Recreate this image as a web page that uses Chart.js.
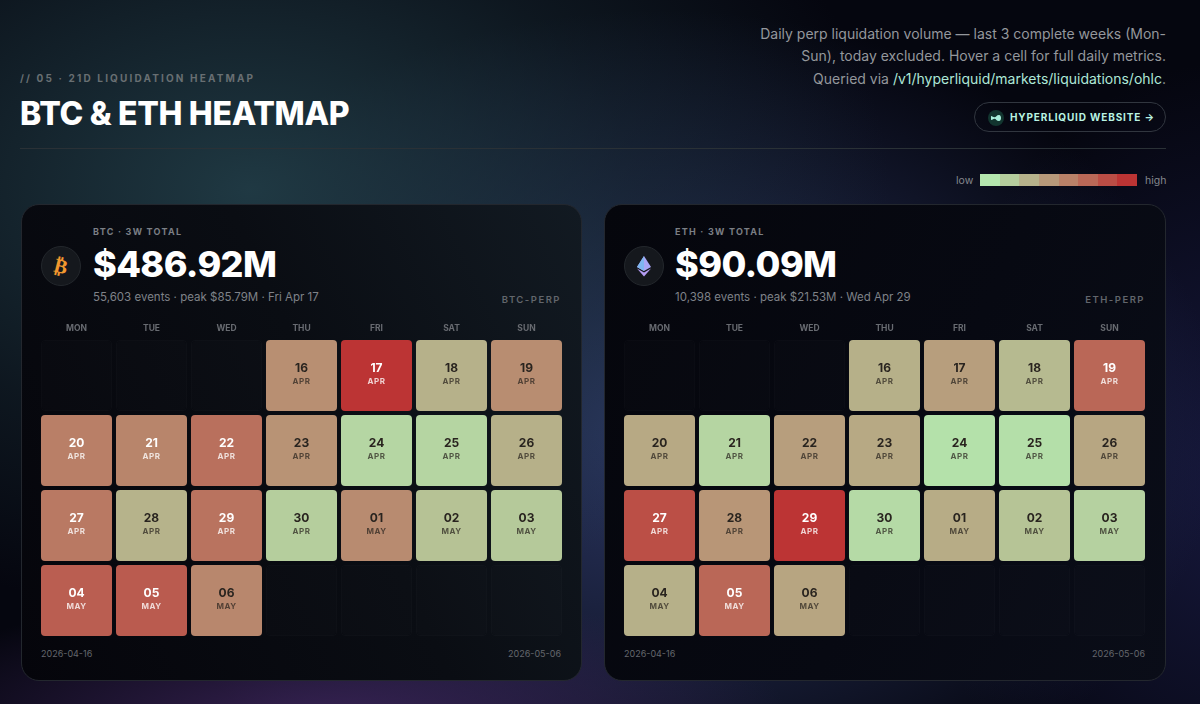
<!DOCTYPE html>
<html>
<head>
<meta charset="utf-8">
<title>BTC & ETH Heatmap</title>
<script src="https://cdn.jsdelivr.net/npm/chart.js@4"></script>
<style>
  * { box-sizing: border-box; margin: 0; padding: 0; }
  html, body { width: 1200px; height: 704px; overflow: hidden; }
  body {
    position: relative;
    font-family: Inter, "Noto Sans", sans-serif;
    color: #fff;
    background:
      radial-gradient(ellipse 640px 430px at 250px 190px, rgba(34,62,72,.9), rgba(30,54,62,.35) 60%, rgba(30,54,62,0) 100%),
      radial-gradient(ellipse 460px 130px at 330px 720px, rgba(66,40,98,.8), rgba(62,38,92,0) 100%),
      radial-gradient(ellipse 560px 420px at 660px 430px, rgba(46,58,104,.95), rgba(44,56,100,0) 100%),
      radial-gradient(ellipse 320px 420px at 1240px 480px, rgba(30,32,80,.7), rgba(30,32,80,0) 100%),
      #05060f;
  }
  .abs { position: absolute; white-space: nowrap; }
  .eyebrow { left: 20px; top: 72px; font-size: 10px; font-weight: 700; letter-spacing: 2.15px; color: #686f72; }
  .title { left: 20px; top: 94px; font-size: 32px; line-height: 40px; font-weight: 800; letter-spacing: -.3px; }
  .intro { right: 34px; top: 23px; text-align: right; font-size: 14px; line-height: 22.3px; color: #94979c; }
  .intro b { font-weight: 400; color: #aee8d8; }
  .site {
    left: 974px; top: 102px; width: 192px; height: 30px; border: 1px solid #31363f; border-radius: 15px;
    font-size: 10px; font-weight: 700; letter-spacing: .85px; line-height: 28px; color: #b9f3e2; padding-left: 35px;
  }
  .site svg { position: absolute; left: 13px; top: 7px; }
  .rule { left: 20px; top: 147.5px; width: 1146px; height: 1px; background: #2a3136; }
  .legend-text { top: 174px; font-size: 10.5px; line-height: 13px; color: #85888e; }
  #legendBar { left: 980px; top: 174px; width: 157px; height: 12px; display: flex; }
  #legendBar span { flex: 1; }
  .card { top: 204px; width: 561px; height: 477px; border: 1px solid #23272e; border-radius: 18px; }
  #btcCard { left: 21px; background: linear-gradient(65deg, #05050b 0%, #0a0d13 55%, #121a22 100%); }
  #ethCard { left: 604px; width: 562px; background: linear-gradient(115deg, #05060c 0%, #070912 55%, #0a0d18 100%); }
  .coin { left: 19px; top: 41px; width: 40px; height: 40px; border-radius: 20px; background: #15181d; border: 1px solid #23272c; }
  .coin svg { position: absolute; left: 8px; top: 8px; }
  .kicker { left: 70px; top: 21px; font-size: 9px; line-height: 12px; font-weight: 700; letter-spacing: 1.25px; color: #7b7f85; }
  .total { left: 70px; top: 36px; font-size: 36px; line-height: 46px; font-weight: 800; letter-spacing: -.6px; }
  .meta { left: 70px; top: 85px; font-size: 11.5px; line-height: 15px; color: #7f8288; }
  #btcCard .kicker, #btcCard .total, #btcCard .meta { left: 71px; }
  .perp { right: 20px; top: 88px; font-size: 9.5px; line-height: 13px; font-weight: 600; letter-spacing: 1.5px; color: #62666c; }
  .date { top: 443px; font-size: 9px; line-height: 12px; color: #64676d; }
  canvas { position: absolute; top: 318px; }
</style>
</head>
<body>
  <div class="abs eyebrow">// 05 · 21D LIQUIDATION HEATMAP</div>
  <div class="abs title">BTC &amp; ETH HEATMAP</div>
  <div class="abs intro">Daily perp liquidation volume — last 3 complete weeks (Mon-<br>Sun), today excluded. Hover a cell for full daily metrics.<br>Queried via <b>/v1/hyperliquid/markets/liquidations/ohlc</b>.</div>
  <div class="abs site">
    <svg width="16" height="16" viewBox="0 0 16 16"><circle cx="8" cy="8" r="8" fill="#12352f"/><path d="M3 6c1.500 0 2 1.300 3.500 1.300S8.500 5 11 5c1.500 0 2 1.500 2 3s-.5 3-2 3c-2.500 0-3-2.300-4.500-2.300S4.500 10 3 10z" fill="#a8f0dc"/></svg>
    HYPERLIQUID WEBSITE →
  </div>
  <div class="abs rule"></div>
  <div class="abs legend-text" style="left:956px">low</div>
  <div class="abs" id="legendBar"></div>
  <div class="abs legend-text" style="left:1145px">high</div>

  <div class="abs card" id="btcCard">
    <div class="abs coin"><svg width="22" height="22" viewBox="0 0 22 22"><text x="11" y="18" text-anchor="middle" font-family="DejaVu Sans" font-size="20" font-weight="700" fill="#f2982f" transform="rotate(14 11 11)">₿</text></svg></div>
    <div class="abs kicker">BTC · 3W TOTAL</div>
    <div class="abs total">$486.92M</div>
    <div class="abs meta">55,603 events · peak $85.79M · Fri Apr 17</div>
    <div class="abs perp">BTC-PERP</div>
    <div class="abs date" style="left:19px">2026-04-16</div>
    <div class="abs date" style="right:20px">2026-05-06</div>
  </div>
  <div class="abs card" id="ethCard">
    <div class="abs coin"><svg width="22" height="22" viewBox="0 0 22 22"><path d="M11 1l7 11-7 4-7-4z" fill="#a9a6f5"/><path d="M11 1v15l-7-4z" fill="#7fb6f0"/><path d="M4 13.500l7 4 7-4-7 8z" fill="#b49cf2"/></svg></div>
    <div class="abs kicker">ETH · 3W TOTAL</div>
    <div class="abs total">$90.09M</div>
    <div class="abs meta">10,398 events · peak $21.53M · Wed Apr 29</div>
    <div class="abs perp">ETH-PERP</div>
    <div class="abs date" style="left:19px">2026-04-16</div>
    <div class="abs date" style="right:20px">2026-05-06</div>
  </div>

  <canvas id="btcChart" width="525" height="320" style="left:39px"></canvas>
  <canvas id="ethChart" width="525" height="320" style="left:622px"></canvas>

<script>
// Calendar slots, Monday first. Empty strings are days outside the 21d window
const weekdays = ['MON', 'TUE', 'WED', 'THU', 'FRI', 'SAT', 'SUN'];
const dayNumbers = [
  '', '', '', '16', '17', '18', '19',
  '20', '21', '22', '23', '24', '25', '26',
  '27', '28', '29', '30', '01', '02', '03',
  '04', '05', '06', '', '', '', ''
];
const dayMonths = [
  '', '', '', 'APR', 'APR', 'APR', 'APR',
  'APR', 'APR', 'APR', 'APR', 'APR', 'APR', 'APR',
  'APR', 'APR', 'APR', 'APR', 'MAY', 'MAY', 'MAY',
  'MAY', 'MAY', 'MAY', '', '', '', ''
];

// Liquidation volume in $M
const btcVolumes = [
  null, null, null, 20.5, 85.79, 7.5, 21.5,
  29, 25.5, 38, 18.5, 0.7, 0.8, 8,
  32, 7, 36, 1.6, 22.5, 3.5, 2.3,
  50, 52, 24.23, null, null, null, null
];
const ethVolumes = [
  null, null, null, 2.01, 3.5, 1.3, 11,
  2.5, 0.2, 3.5, 2.5, 0.02, 0.03, 2.8,
  15.5, 4.3, 21.53, 0.1, 2.3, 0.8, 0.3,
  2, 11, 2.9, null, null, null, null
];

const lowColor = [180, 230, 174];
const highColor = [188, 52, 52];
const legendSteps = [0, 0.14, 0.29, 0.43, 0.57, 0.71, 0.86, 1];

function mixColor(t) {
  const c = lowColor.map((low, i) => Math.round(low + (highColor[i] - low) * t));
  return `rgb(${c[0]},${c[1]},${c[2]})`;
}

document.getElementById('legendBar').innerHTML =
  legendSteps.map(t => `<span style="background:${mixColor(t)}"></span>`).join('');

// Colour follows the square root of volume / peak
function intensity(value, peak) {
  return Math.sqrt(value / peak);
}

const cellLabels = {
  id: 'cellLabels',
  afterDatasetsDraw(chart, args, opts) {
    const ctx = chart.ctx;
    ctx.save();
    ctx.textAlign = 'center';
    ctx.textBaseline = 'middle';
    chart.data.datasets.forEach((ds, row) => {
      chart.getDatasetMeta(row).data.forEach((bar, col) => {
        const slot = row * 7 + col;
        if (!dayNumbers[slot]) return;
        const light = intensity(opts.values[slot], opts.peak) > 0.54;
        const mid = (bar.y + bar.base) / 2;
        ctx.letterSpacing = '0px';
        ctx.font = '700 12px Inter';
        ctx.fillStyle = light ? '#ffffff' : '#29241f';
        ctx.fillText(dayNumbers[slot], bar.x, mid - 7.5);
        ctx.letterSpacing = '0.5px';
        ctx.font = '700 8px Inter';
        ctx.fillStyle = light ? 'rgba(255,255,255,.78)' : 'rgba(41,36,31,.72)';
        ctx.fillText(dayMonths[slot], bar.x, mid + 6);
      });
    });
    ctx.restore();
  }
};

function renderHeatmap(canvasId, values) {
  const canvas = document.getElementById(canvasId);
  const peak = Math.max(...values.filter(v => v !== null));
  const datasets = [0, 1, 2, 3].map(row => {
    const rowValues = values.slice(row * 7, row * 7 + 7);
    return {
      data: rowValues.map(() => [row + 0.027, row + 0.973]),
      grouped: false,
      barPercentage: 0.947,
      categoryPercentage: 1,
      borderRadius: 4,
      borderSkipped: false,
      borderWidth: rowValues.map(v => v === null ? 1 : 0),
      backgroundColor: rowValues.map(v => v === null ? 'rgba(255,255,255,0.012)' : mixColor(intensity(v, peak))),
      borderColor: rowValues.map(v => v === null ? 'rgba(255,255,255,0.025)' : 'rgba(0,0,0,0)')
    };
  });

  canvas.getContext('2d').letterSpacing = '1.2px';
  return new Chart(canvas, {
    type: 'bar',
    data: { labels: weekdays, datasets: datasets },
    plugins: [cellLabels],
    options: {
      responsive: false,
      animation: false,
      layout: { padding: 0 },
      scales: {
        x: {
          position: 'top',
          grid: { display: false, drawTicks: false },
          border: { display: false },
          ticks: { color: '#686b71', font: { family: 'Inter', size: 8.5, weight: '700' }, padding: 4, maxRotation: 0 },
          afterFit(scale) { scale.height = 20; }
        },
        y: { display: false, min: 0, max: 4, reverse: true }
      },
      plugins: {
        legend: { display: false },
        tooltip: { enabled: false },
        cellLabels: { values: values, peak: peak }
      }
    }
  });
}

renderHeatmap('btcChart', btcVolumes);
renderHeatmap('ethChart', ethVolumes);
</script>
</body>
</html>
